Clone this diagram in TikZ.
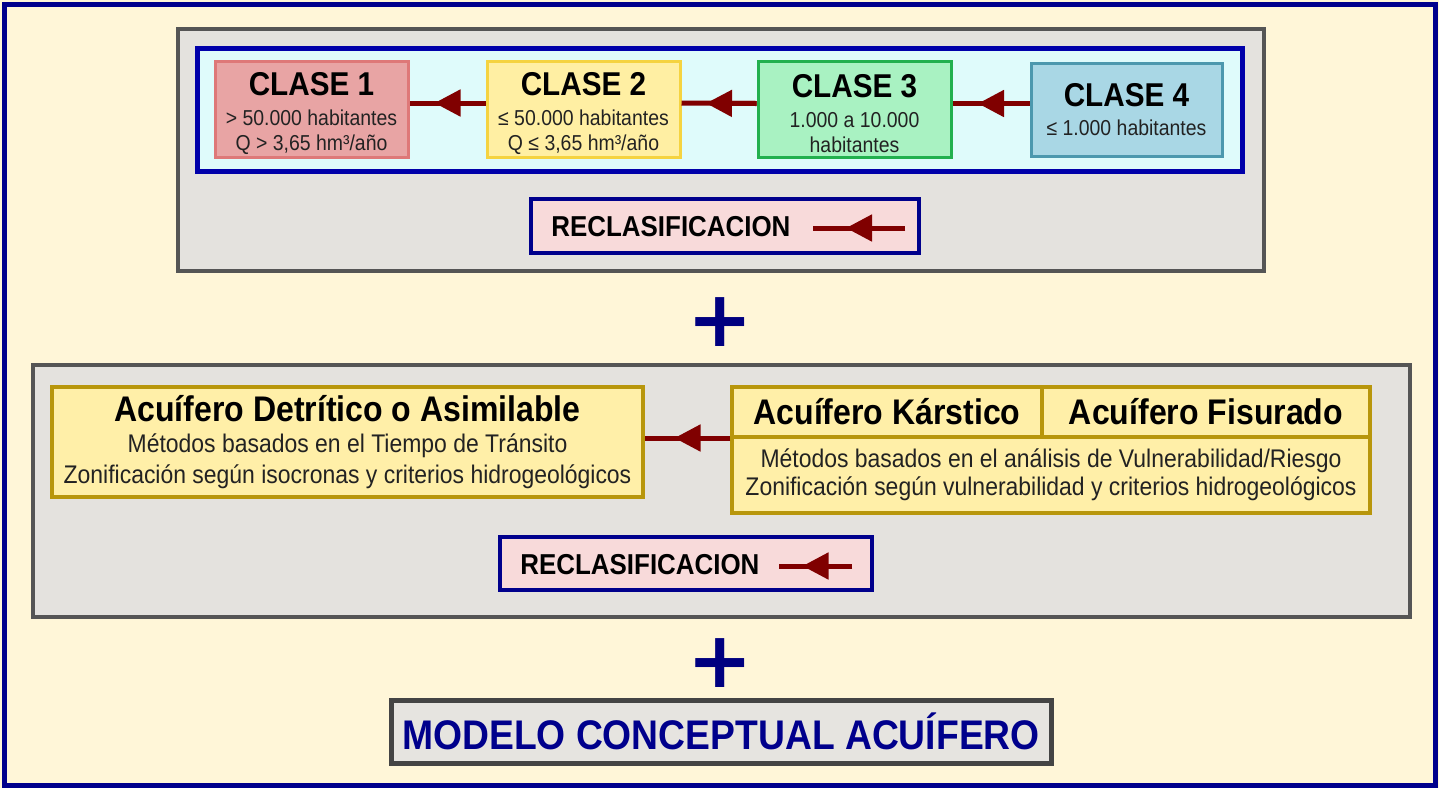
\documentclass[tikz,border=0pt]{standalone}
\usepackage{fontspec}
\setmainfont{Liberation Sans}[FakeStretch=0.9]
\newfontfamily\plusfont{DejaVu Sans}
\usetikzlibrary{arrows.meta,calc}
\definecolor{cream}{RGB}{255,246,216}
\definecolor{navy}{RGB}{0,0,140}
\definecolor{panelgray}{RGB}{228,226,222}
\definecolor{paneledge}{RGB}{85,85,85}
\definecolor{cyanfill}{RGB}{223,251,251}
\definecolor{boxblue}{RGB}{0,0,170}
\definecolor{c1fill}{RGB}{232,164,164}
\definecolor{c1edge}{RGB}{222,120,120}
\definecolor{c2fill}{RGB}{255,239,163}
\definecolor{c2edge}{RGB}{245,211,64}
\definecolor{c3fill}{RGB}{169,242,194}
\definecolor{c3edge}{RGB}{34,176,78}
\definecolor{c4fill}{RGB}{169,215,229}
\definecolor{c4edge}{RGB}{76,152,174}
\definecolor{arrowred}{RGB}{128,0,0}
\definecolor{pinkfill}{RGB}{248,218,218}
\definecolor{aqfill}{RGB}{255,239,168}
\definecolor{aqedge}{RGB}{184,150,11}
\definecolor{plusblue}{RGB}{0,0,128}
\definecolor{modelgray}{RGB}{230,228,224}
\definecolor{modeledge}{RGB}{68,68,68}
\definecolor{subtext}{RGB}{34,34,34}
\tikzset{
  panel/.style={draw=paneledge, fill=panelgray, line width=2pt, inner sep=0pt},
  clasebox/.style={line width=1.5pt, align=center, inner sep=0pt, minimum width=96.5pt, minimum height=48pt, font=\fontsize{10.8}{12.5}\selectfont},
  redline/.style={draw=arrowred, line width=2.5pt},
  redhead/.style={draw=arrowred, line width=2.5pt, -{Triangle[length=13pt,width=13pt]}},
  reclbox/.style={draw=navy, fill=pinkfill, line width=2.2pt, inner sep=0pt},
  recltext/.style={font=\fontsize{14.4}{16}\selectfont\bfseries, inner sep=0pt, anchor=west},
  aqbox/.style={draw=aqedge, fill=aqfill, line width=2pt, inner sep=0pt, align=center},
  aqtitle/.style={font=\fontsize{17.8}{20}\selectfont\bfseries},
  plussign/.style={text=plusblue, font=\plusfont\bfseries\fontsize{39}{40}\selectfont, inner sep=0pt},
}
\newcommand{\redarrow}[2]{\draw[redline] (#1) -- (#2); \draw[redhead] (#1) -- ($(#1)!0.5!(#2)+(-13,0)$);}
\newcommand{\clasetitle}[1]{{\fontsize{16.5}{18}\selectfont\bfseries\rule{0pt}{16pt}#1}}
\begin{document}
\begin{tikzpicture}[x=0.5pt,y=-0.5pt]
\path[use as bounding box, fill=cream] (0,0) rectangle (1439,788);
\draw[navy, line width=2.5pt] (4.5,4.5) rectangle (1435.5,785.5);

% top panel
\node[panel, minimum width=543pt, minimum height=121pt] (toppanel) at (721,150) {};
\node[draw=boxblue, fill=cyanfill, line width=2.5pt, minimum width=522.5pt, minimum height=61.5pt, inner sep=0pt] (bluebox) at (719.5,109.5) {};
\node[clasebox, draw=c1edge, fill=c1fill] (c1) at (311.5,109) {\clasetitle{CLASE 1}\\[2.5pt] {\color{subtext}> 50.000 habitantes}\\ {\color{subtext}Q > 3,65 hm³/año}};
\node[clasebox, draw=c2edge, fill=c2fill] (c2) at (583.5,109) {\clasetitle{CLASE 2}\\[2.5pt] {\color{subtext}≤ 50.000 habitantes}\\ {\color{subtext}Q ≤ 3,65 hm³/año}};
\node[clasebox, draw=c3edge, fill=c3fill] (c3) at (854.5,109.5) {\clasetitle{CLASE 3}\\[2.5pt] {\color{subtext}1.000 a 10.000}\\ {\color{subtext}habitantes}};
\node[clasebox, draw=c4edge, fill=c4fill, minimum width=95.5pt, minimum height=46.5pt] (c4) at (1126.5,109.5) {{\fontsize{16.5}{18}\selectfont\bfseries CLASE 4}\\[2pt] {\color{subtext}≤ 1.000 habitantes}};
\coordinate (a1) at ([yshift=3pt]c1.east);
\coordinate (a2l) at ([yshift=3pt]c2.west);
\coordinate (a2r) at ([yshift=3pt]c2.east);
\coordinate (a3l) at ([yshift=3pt]c3.west);
\coordinate (a3r) at ([yshift=3pt]c3.east);
\coordinate (a4) at ([yshift=3pt]c4.west);
\redarrow{a2l}{a1}
\redarrow{a3l}{a2r}
\redarrow{a4}{a3r}

\node[reclbox, minimum width=194pt, minimum height=27pt] (rec1) at (725,226) {};
\node[recltext] (rec1t) at (551,227) {RECLASIFICACION};
\coordinate (rec1a) at (905,228);
\coordinate (rec1b) at (813,228);
\redarrow{rec1a}{rec1b}

% plus 1
\node[plussign] (plus1) at (720,322) {+};

% middle panel
\node[panel, minimum width=688.5pt, minimum height=126pt] (midpanel) at (721.5,491) {};
\node[aqbox, minimum width=295.5pt, minimum height=55pt, font=\fontsize{12.75}{15.3}\selectfont] (det) at (347.5,442) {{\fontsize{17.8}{20}\selectfont\bfseries Acuífero Detrítico o Asimilable}\\ {\color{subtext}Métodos basados en el Tiempo de Tránsito}\\ {\color{subtext}Zonificación según isocronas y criterios hidrogeológicos}};
\node[aqbox, minimum width=319pt, minimum height=38pt, font=\fontsize{12.75}{14}\selectfont] (kb) at (1051,475) {{\color{subtext}Métodos basados en el análisis de Vulnerabilidad/Riesgo}\\ {\color{subtext}Zonificación según vulnerabilidad y criterios hidrogeológicos}};
\node[aqbox, aqtitle, minimum width=155pt, minimum height=25pt] (kk) at (887,412) {Acuífero Kárstico};
\node[aqbox, aqtitle, minimum width=164pt, minimum height=25pt] (ff) at (1206,412) {Acuífero Fisurado};
\coordinate (ks) at ([yshift=-1.5pt]kb.north west);
\coordinate (ke) at (ks -| det.east);
\redarrow{ks}{ke}

\node[reclbox, minimum width=186pt, minimum height=26.5pt] (rec2) at (686,563.5) {};
\node[recltext] (rec2t) at (520,565) {RECLASIFICACION};
\coordinate (rec2a) at (852,566);
\coordinate (rec2b) at (779,566);
\redarrow{rec2a}{rec2b}

% plus 2
\node[plussign] (plus2) at (720,663) {+};

% final
\node[draw=modeledge, fill=modelgray, line width=2.5pt, minimum width=330pt, minimum height=31.5pt, inner sep=0pt, text=navy, font=\fontsize{20.7}{22}\selectfont\bfseries] (modelo) at (721,731.5) {MODELO CONCEPTUAL ACUÍFERO};
\end{tikzpicture}
\end{document}
